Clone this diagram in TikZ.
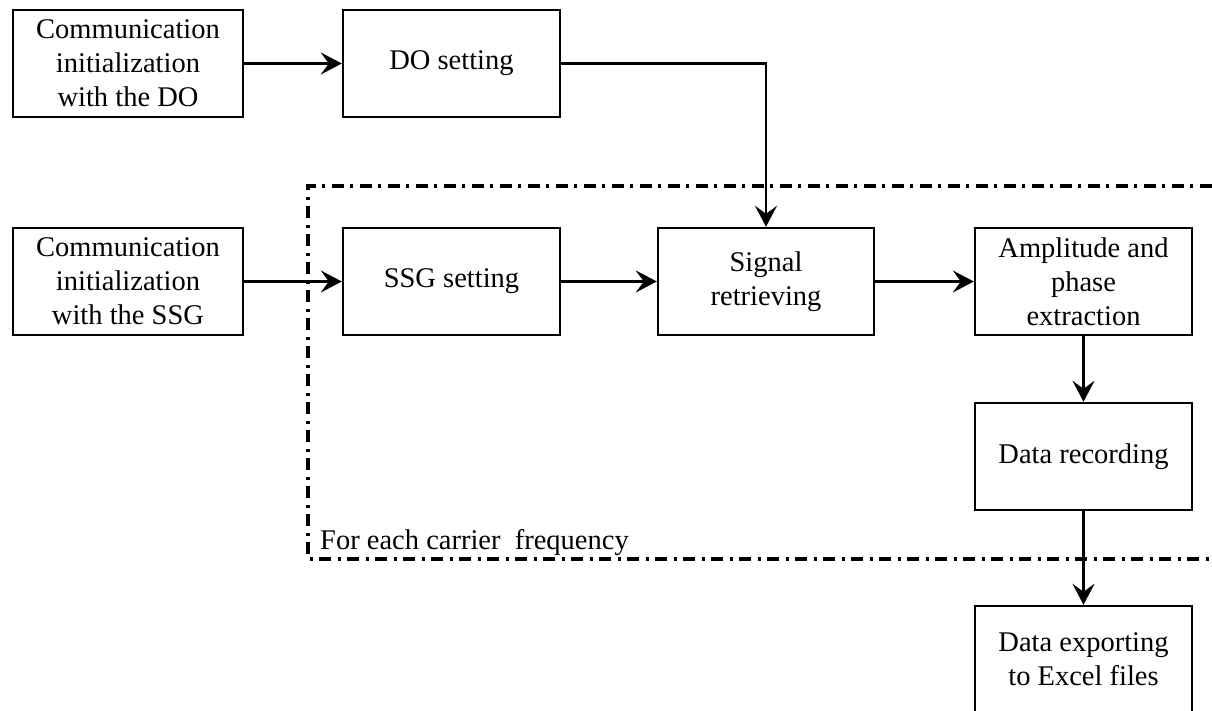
\documentclass[tikz,border=0pt]{standalone}
\usepackage{fontspec}
\setmainfont{Liberation Serif}
\usetikzlibrary{arrows.meta}
\begin{document}
\begin{tikzpicture}[x=1pt,y=-1pt,
  box/.style={draw, line width=2.4pt, align=center, inner sep=0pt,
    font=\fontsize{28.5}{34}\selectfont, minimum height=107pt},
  arr/.style={line width=2.1pt, -{Stealth[length=21pt,width=22pt,inset=8pt]}},
  frame/.style={line width=3.4pt, dash pattern=on 12pt off 7pt on 3pt off 6pt}]
\clip (0,0) rectangle (1212,711);
\fill[white] (0,0) rectangle (1212,711);
\draw[frame] (1240,186) -- (308,186) -- (308,559) -- (1240,559);
\node[anchor=base west, inner sep=0pt, font=\fontsize{28.5}{34}\selectfont] (lab) at (320,549) {For each carrier\ \ frequency};
\node[box, minimum width=230pt] (A) at (128,63.5) {Communication\\initialization\\with the DO};
\node[box, minimum width=217pt] (B) at (451.5,63.5) {DO setting};
\node[box, minimum width=230pt] (C) at (128,281.5) {Communication\\initialization\\with the SSG};
\node[box, minimum width=217pt] (D) at (451.5,281.5) {SSG setting};
\node[box, minimum width=216pt] (E) at (766,281.5) {Signal\\retrieving};
\node[box, minimum width=217pt] (F) at (1083.5,281.5) {Amplitude and\\phase\\extraction};
\node[box, minimum width=217pt] (G) at (1083.5,456.5) {Data recording};
\node[box, minimum width=217pt] (H) at (1083.5,659.5) {Data exporting\\to Excel files};
\draw[arr] (A) -- (B);
\draw[arr] (B.east) -| (E.north);
\draw[arr] (C) -- (D);
\draw[arr] (D) -- (E);
\draw[arr] (E) -- (F);
\draw[arr] (F) -- (G);
\draw[arr] (G) -- (H);
\end{tikzpicture}
\end{document}
